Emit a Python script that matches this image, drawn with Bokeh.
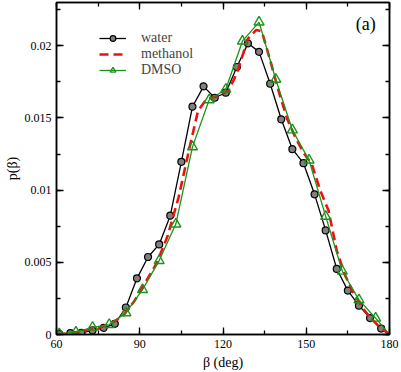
from bokeh.plotting import figure
from bokeh.models import (LinearAxis, SingleIntervalTicker, NumeralTickFormatter,
                          Range1d, Legend, LegendItem, Label, CustomLabelingPolicy)
from bokeh.embed import file_html
from bokeh.resources import INLINE

# ---- data ----
water_beta = [61, 65, 69, 73, 77, 81, 85, 89, 93, 97, 101, 105, 109, 113, 117,
              121, 125, 129, 133, 137, 141, 145, 149, 153, 157, 161, 165, 169, 173, 177]
water_p = [0.00003, 0.00009, 0.00012, 0.00028, 0.00046, 0.00074, 0.00187, 0.00389,
           0.00537, 0.00624, 0.00823, 0.01196, 0.01578, 0.01719, 0.01640, 0.01675,
           0.01853, 0.02017, 0.01958, 0.01737, 0.01491, 0.01284, 0.01187, 0.00971,
           0.00721, 0.00454, 0.00304, 0.00200, 0.00114, 0.00041]

dmso_beta = [61, 67, 73, 79, 85, 91, 97, 103, 109, 115, 121, 127, 133, 139,
             145, 151, 157, 163, 169, 175]
dmso_p = [0.00005, 0.00016, 0.00050, 0.00069, 0.00150, 0.00311, 0.00512, 0.00765,
          0.01300, 0.01625, 0.01699, 0.02032, 0.02164, 0.01768, 0.01417, 0.01208,
          0.00818, 0.00438, 0.00240, 0.00113]

methanol_beta = [60, 64, 68, 72, 76, 80, 84, 88, 92, 96, 100, 104, 108, 111, 114,
                 118, 122, 125, 129, 132, 134, 137, 140, 143, 146, 149, 152, 155,
                 158, 161, 164, 167, 170, 173, 176, 180]
methanol_p = [0.0, 0.00008, 0.00018, 0.00035, 0.0005, 0.0008, 0.0013, 0.0023, 0.0036,
              0.0049, 0.0068, 0.0095, 0.0130, 0.0155, 0.0163, 0.0165, 0.0169, 0.0181,
              0.0205, 0.0211, 0.0210, 0.0190, 0.0169, 0.0150, 0.0137, 0.0126, 0.0118,
              0.0100, 0.0086, 0.0058, 0.0041, 0.0029, 0.0019, 0.0012, 0.0006, 0.0]

beta_end, p_end = 180, 0.0
x_ticks_interval = 30
y_ticks_interval = 0.005

SERIF = "Liberation Serif"
GREEN = "#1a941a"
RED = "#ee1111"

p = figure(width=401, height=372, output_backend="svg", toolbar_location=None,
           x_range=Range1d(60, 180), y_range=Range1d(0, 0.023),
           min_border_left=56, min_border_right=12, min_border_top=2,
           min_border_bottom=38, background_fill_color="white",
           border_fill_color="white")
p.xgrid.visible = False
p.ygrid.visible = False
p.outline_line_color = "black"
p.outline_line_width = 1.5

xt = SingleIntervalTicker(interval=x_ticks_interval, num_minor_ticks=2)
yt = SingleIntervalTicker(interval=y_ticks_interval, num_minor_ticks=2)

hide_all = CustomLabelingPolicy(code="""
const all = [...indices];
for (const i of all) indices.unset(i);
return indices;
""")


def style_axis(ax, labels=True):
    ax.axis_line_color = "black"
    ax.axis_line_width = 1.5
    ax.major_tick_in = 7
    ax.major_tick_out = 0
    ax.minor_tick_in = 4
    ax.minor_tick_out = 0
    ax.major_tick_line_width = 1.3
    ax.minor_tick_line_width = 1.3
    ax.major_tick_line_color = "black"
    ax.minor_tick_line_color = "black"
    if labels:
        ax.major_label_text_font = SERIF
        ax.major_label_text_font_size = "12px"
        ax.major_label_text_color = "black"
        ax.axis_label_text_font = SERIF
        ax.axis_label_text_font_size = "14px"
        ax.axis_label_text_font_style = "normal"
        ax.axis_label_text_color = "black"
    else:
        ax.major_label_policy = hide_all
        ax.major_label_text_font_size = "0px"
        ax.major_label_standoff = 0


p.xaxis.ticker = xt
p.yaxis.ticker = yt
p.yaxis.formatter = NumeralTickFormatter(format="0.[000]")
style_axis(p.xaxis[0])
style_axis(p.yaxis[0])
p.xaxis.axis_label = "β (deg)"
p.yaxis.axis_label = "p(β)"
p.xaxis.major_label_standoff = 5
p.xaxis.axis_label_standoff = 4
p.yaxis.major_label_standoff = 5
p.yaxis.axis_label_standoff = 2

top = LinearAxis(ticker=xt)
right = LinearAxis(ticker=yt)
style_axis(top, labels=False)
style_axis(right, labels=False)
p.add_layout(top, "above")
p.add_layout(right, "right")

# ---- series ----
wl = p.line(water_beta + [beta_end], water_p + [p_end], line_color="black", line_width=1.3)
ws = p.scatter(water_beta, water_p, marker="circle", size=7, fill_color="#808080",
               line_color="black", line_width=1.2)
ml = p.line(methanol_beta, methanol_p, line_color=RED, line_width=2.6, line_dash="9 5")
dl = p.line(dmso_beta + [beta_end], dmso_p + [p_end], line_color=GREEN, line_width=1.3)
ds = p.scatter(dmso_beta, dmso_p, marker="triangle", size=10, fill_color="white",
               fill_alpha=0.0, line_color=GREEN, line_width=1.4)

legend = Legend(items=[LegendItem(label="water", renderers=[wl, ws]),
                       LegendItem(label="methanol", renderers=[ml]),
                       LegendItem(label="DMSO", renderers=[dl, ds])],
                location=(43, 256), glyph_width=27, glyph_height=14,
                label_height=14, label_standoff=15, spacing=0, padding=0, margin=0,
                label_text_font=SERIF, label_text_font_size="14px",
                border_line_color=None, background_fill_alpha=0.0)
p.add_layout(legend)

p.add_layout(Label(x=171.4, y=0.02148, text="(a)", text_font=SERIF,
                   text_font_size="18px", text_align="center",
                   text_baseline="middle", text_color="black"))

open("out.html", "w").write(file_html(p, INLINE))
